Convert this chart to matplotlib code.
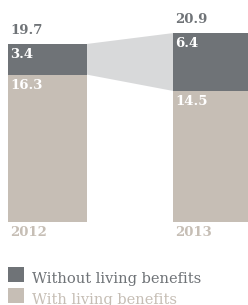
import numpy as np
import matplotlib
matplotlib.use("Agg")
import matplotlib.pyplot as plt
from matplotlib.patches import Rectangle

plt.rcParams["font.family"] = ["DejaVu Serif"]

years = ["2012", "2013"]
with_living = [16.3, 14.5]
without_living = [3.4, 6.4]
totals = [19.7, 20.9]
legend_labels = ["Without living benefits", "With living benefits"]

dark = "#6f7377"
beige = "#c6beb5"
connector = "#d8d9da"


def main():
    fig = plt.figure(figsize=(2.48, 3.05), dpi=100)
    ax = fig.add_axes([0, 83 / 305, 1, 222 / 305])

    x = np.arange(len(years))
    w = 0.479
    ax.bar(x, with_living, width=w, color=beige, linewidth=0)
    ax.bar(x, without_living, width=w, bottom=with_living, color=dark, linewidth=0)

    # band joining the "without" segments
    x0 = x[0] + w / 2
    x1 = x[1] - w / 2
    ax.fill([x0, x1, x1, x0],
            [with_living[0], with_living[1], totals[1], totals[0]],
            color=connector, linewidth=0, zorder=0)

    for i in range(len(years)):
        ax.annotate(f"{totals[i]}", (x[i] - w / 2, totals[i]), xytext=(1.5, 5),
                    textcoords="offset points", ha="left", va="bottom",
                    fontsize=9.5, fontweight="bold", color=dark)
        ax.annotate(f"{without_living[i]}", (x[i] - w / 2, totals[i]), xytext=(1.5, -3),
                    textcoords="offset points", ha="left", va="top",
                    fontsize=9.5, fontweight="bold", color="white")
        ax.annotate(f"{with_living[i]}", (x[i] - w / 2, with_living[i]), xytext=(1.5, -3),
                    textcoords="offset points", ha="left", va="top",
                    fontsize=9.5, fontweight="bold", color="white")
        ax.annotate(years[i], (x[i] - w / 2, 0), xytext=(1.5, -3),
                    textcoords="offset points", ha="left", va="top",
                    fontsize=9.5, fontweight="bold", color=beige)

    ax.set_xlim(-0.288, 1.215)
    ax.set_ylim(0, 24.56)
    ax.axis("off")

    # legend
    for j, (lab, col) in enumerate(zip(legend_labels, [dark, beige])):
        yb = 1 - (282 + j * 21) / 305
        fig.patches.append(Rectangle((8 / 248, yb), 16 / 248, 15 / 305,
                                     transform=fig.transFigure, color=col,
                                     linewidth=0))
        fig.text(32 / 248, yb - 1 / 305, lab, ha="left", va="baseline",
                 fontsize=10.5, color=col)

    fig.savefig("out.png", dpi=100)
    plt.close(fig)


if __name__ == "__main__":
    main()
